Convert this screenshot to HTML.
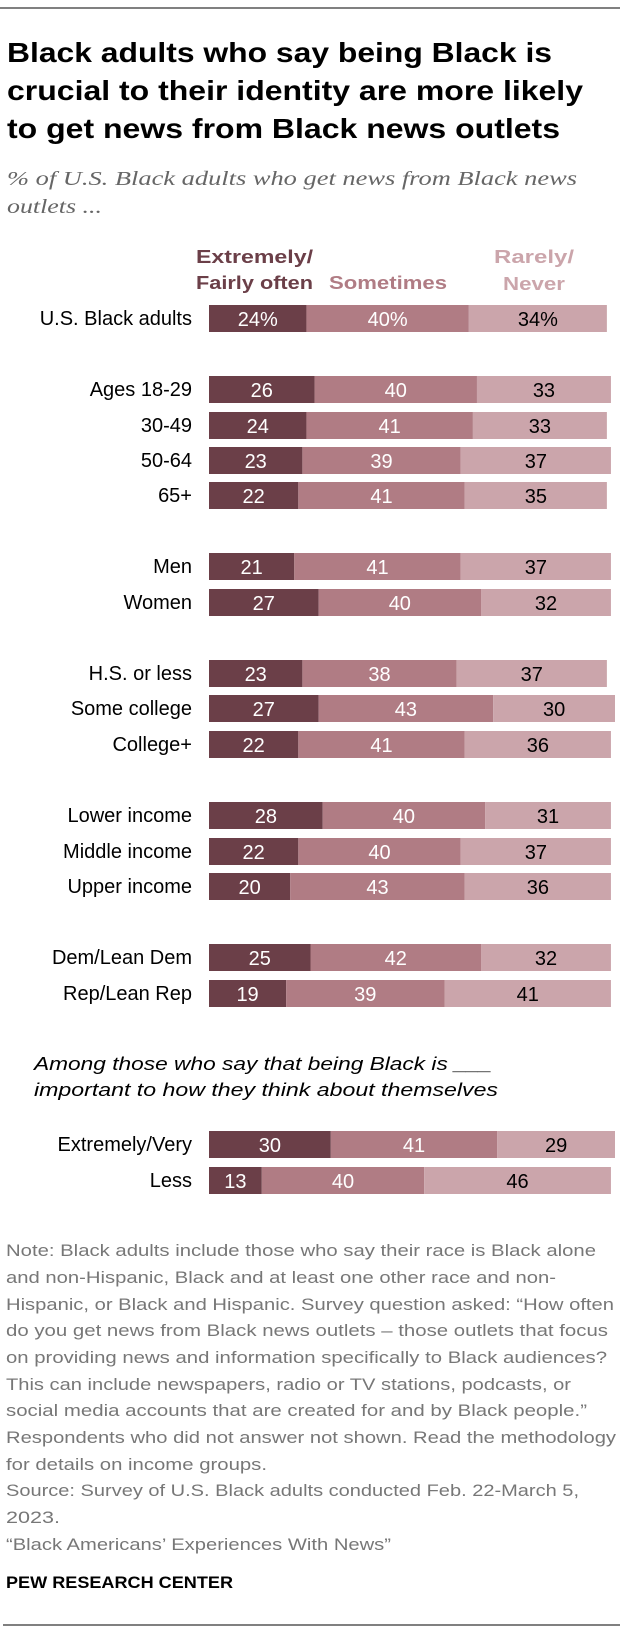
<!DOCTYPE html>
<html><head><meta charset="utf-8"><style>
body{margin:0;background:#fff}
svg{display:block}
text{font-family:"Liberation Sans",sans-serif}
</style></head><body>
<svg id="chart" width="620" height="1634" viewBox="0 0 620 1634" xmlns="http://www.w3.org/2000/svg">
<line x1="0" y1="8" x2="620" y2="8" stroke="#000" stroke-width="1"/>
<g font-weight="bold" font-size="28" fill="#000">
<text x="7" y="62" textLength="545" lengthAdjust="spacingAndGlyphs">Black adults who say being Black is</text>
<text x="7" y="100" textLength="576" lengthAdjust="spacingAndGlyphs">crucial to their identity are more likely</text>
<text x="7" y="138" textLength="553" lengthAdjust="spacingAndGlyphs">to get news from Black news outlets</text>
</g>
<g font-style="italic" font-size="20" fill="#666">
<text x="7" y="185" textLength="570" lengthAdjust="spacingAndGlyphs" style="font-family:'Liberation Serif',serif">% of U.S. Black adults who get news from Black news</text>
<text x="7" y="213" textLength="95" lengthAdjust="spacingAndGlyphs" style="font-family:'Liberation Serif',serif">outlets ...</text>
</g>
<g font-weight="bold" font-size="18">
<text x="196" y="263" fill="#6b3f48" textLength="117" lengthAdjust="spacingAndGlyphs">Extremely/</text>
<text x="196" y="289" fill="#6b3f48" textLength="117" lengthAdjust="spacingAndGlyphs">Fairly often</text>
<text x="388" y="289" fill="#b07c84" text-anchor="middle" textLength="118" lengthAdjust="spacingAndGlyphs">Sometimes</text>
<text x="494" y="263" fill="#cba5ab" textLength="80" lengthAdjust="spacingAndGlyphs">Rarely/</text>
<text x="503" y="290" fill="#cba5ab" textLength="62" lengthAdjust="spacingAndGlyphs">Never</text>
</g>
<g id="bars"></g>
<g font-style="italic" font-size="18" fill="#000">
<text x="34" y="1070" textLength="458" lengthAdjust="spacingAndGlyphs">Among those who say that being Black is ___</text>
<text x="34" y="1096" textLength="464" lengthAdjust="spacingAndGlyphs">important to how they think about themselves</text>
</g>
<g font-size="17" fill="#777">
<text x="6" y="1256" textLength="590" lengthAdjust="spacingAndGlyphs">Note: Black adults include those who say their race is Black alone</text>
<text x="6" y="1283" textLength="550" lengthAdjust="spacingAndGlyphs">and non-Hispanic, Black and at least one other race and non-</text>
<text x="6" y="1310" textLength="608" lengthAdjust="spacingAndGlyphs">Hispanic, or Black and Hispanic. Survey question asked: “How often</text>
<text x="6" y="1336" textLength="602" lengthAdjust="spacingAndGlyphs">do you get news from Black news outlets – those outlets that focus</text>
<text x="6" y="1363" textLength="601" lengthAdjust="spacingAndGlyphs">on providing news and information specifically to Black audiences?</text>
<text x="6" y="1390" textLength="565" lengthAdjust="spacingAndGlyphs">This can include newspapers, radio or TV stations, podcasts, or</text>
<text x="6" y="1416" textLength="581" lengthAdjust="spacingAndGlyphs">social media accounts that are created for and by Black people.”</text>
<text x="6" y="1443" textLength="610" lengthAdjust="spacingAndGlyphs">Respondents who did not answer not shown. Read the methodology</text>
<text x="6" y="1470" textLength="261" lengthAdjust="spacingAndGlyphs">for details on income groups.</text>
<text x="6" y="1496" textLength="573" lengthAdjust="spacingAndGlyphs">Source: Survey of U.S. Black adults conducted Feb. 22-March 5,</text>
<text x="6" y="1523" textLength="54" lengthAdjust="spacingAndGlyphs">2023.</text>
<text x="6" y="1550" textLength="385" lengthAdjust="spacingAndGlyphs">“Black Americans’ Experiences With News”</text>
</g>
<text x="6" y="1588" font-size="17" font-weight="bold" fill="#000" textLength="227" lengthAdjust="spacingAndGlyphs">PEW RESEARCH CENTER</text>
<line x1="3" y1="1625" x2="620" y2="1625" stroke="#000" stroke-width="1"/>
</svg>
<script>
const categories = ["U.S. Black adults","Ages 18-29","30-49","50-64","65+","Men","Women","H.S. or less","Some college","College+","Lower income","Middle income","Upper income","Dem/Lean Dem","Rep/Lean Rep","Extremely/Very","Less"];
const often = [24,26,24,23,22,21,27,23,27,22,28,22,20,25,19,30,13];
const sometimes = [40,40,41,39,41,41,40,38,43,41,40,40,43,42,39,41,40];
const rarely = [34,33,33,37,35,37,32,37,30,36,31,37,36,32,41,29,46];
const rowTops = [305,376,412,447,482,553,589,660,695,731,802,838,873,944,980,1131,1167];
const NS = "http://www.w3.org/2000/svg";
const g = document.getElementById("bars");
const x0 = 209, unit = 4.06, barH = 27;
function xs(v){ return v * unit; }
const colors = ["#6b3f48","#b07c84","#cba5ab"];
const tcol = ["#fff","#fff","#000"];
const segNames = ["often","sometimes","rarely"];
categories.forEach((cat, i) => {
  const y = rowTops[i];
  const lab = document.createElementNS(NS, "text");
  
  
  lab.setAttribute("x", 192); lab.setAttribute("y", y + 20);
  lab.setAttribute("text-anchor", "end"); lab.setAttribute("font-size", "20");
  lab.textContent = cat;
  g.appendChild(lab);
  const vals = [often[i], sometimes[i], rarely[i]];
  let x = x0;
  vals.forEach((v, k) => {
    const w = xs(v);
    const r = document.createElementNS(NS, "rect");
    
    
    r.setAttribute("x", x); r.setAttribute("y", y);
    r.setAttribute("width", w); r.setAttribute("height", barH);
    r.setAttribute("fill", colors[k]);
    g.appendChild(r);
    const t = document.createElementNS(NS, "text");
    
    
    t.setAttribute("x", x + w / 2); t.setAttribute("y", y + 21);
    t.setAttribute("text-anchor", "middle"); t.setAttribute("font-size", "20");
    t.setAttribute("fill", tcol[k]);
    t.textContent = v + (i === 0 ? "%" : "");
    g.appendChild(t);
    x += w;
  });
});
</script>
</body></html>
